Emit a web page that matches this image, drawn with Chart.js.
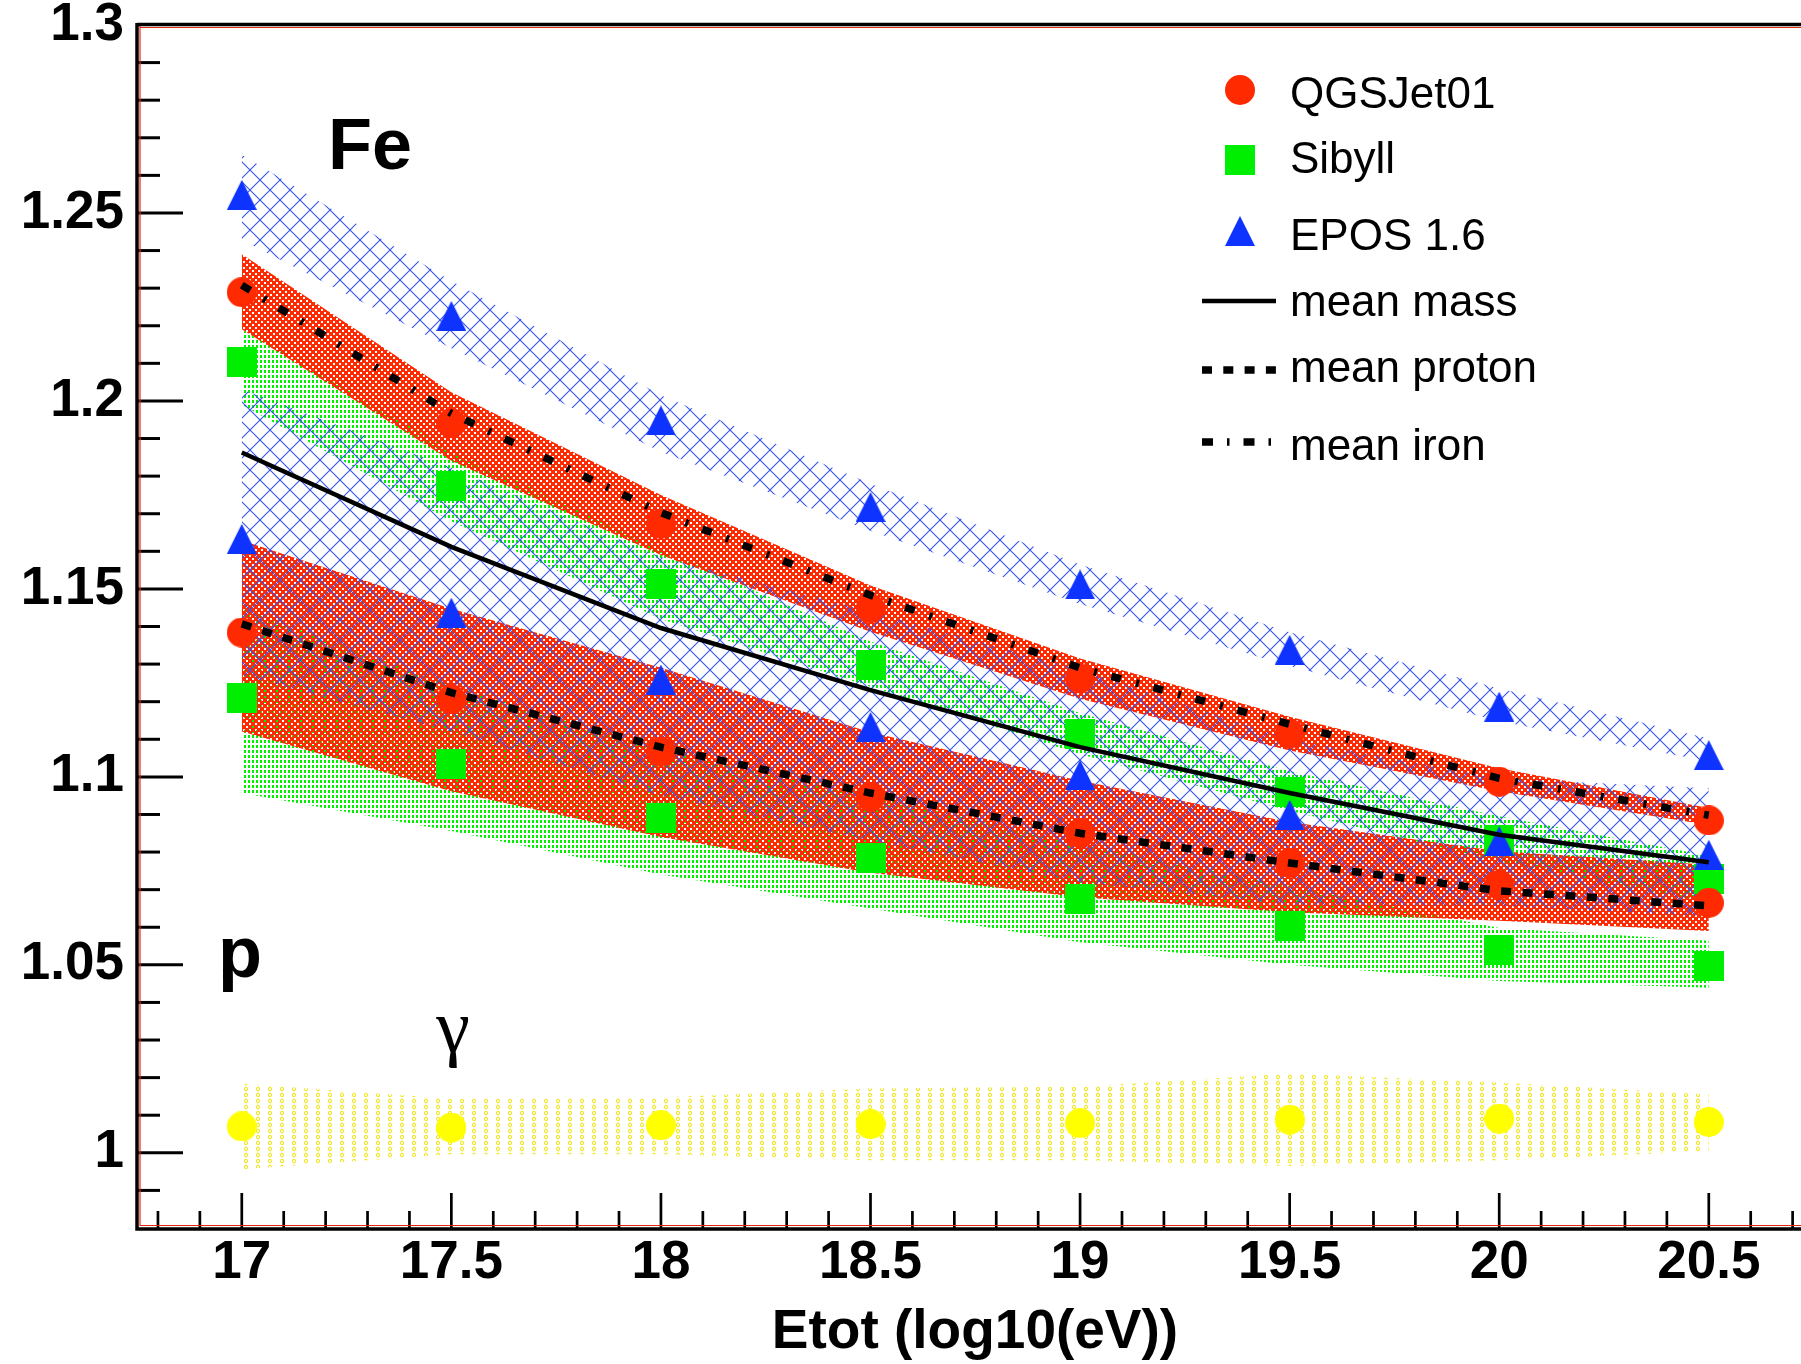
<!DOCTYPE html>
<html>
<head>
<meta charset="utf-8">
<script src="https://cdn.jsdelivr.net/npm/chart.js@4.4.1/dist/chart.umd.min.js"></script>
<style>
  html, body { margin: 0; padding: 0; background: #fff; overflow: hidden; }
  canvas { display: block; }
</style>
</head>
<body>
<canvas id="chart" width="1801" height="1364"></canvas>
<script>
// energies (log10 eV) of every simulated point
const ENERGY = [17, 17.5, 18, 18.5, 19, 19.5, 20, 20.5];
const X_TICKS = [17, 17.5, 18, 18.5, 19, 19.5, 20, 20.5];
const X_LABELS = ["17", "17.5", "18", "18.5", "19", "19.5", "20", "20.5"];
const Y_TICKS = [1, 1.05, 1.1, 1.15, 1.2, 1.25, 1.3];
const Y_LABELS = ["1", "1.05", "1.1", "1.15", "1.2", "1.25", "1.3"];
const X_TITLE = "Etot (log10(eV))";

// markers
const qgsIron    = [1.2289, 1.1941, 1.1673, 1.1448, 1.1262, 1.1115, 1.0987, 1.0884];
const qgsProton  = [1.1384, 1.1206, 1.1067, 1.0947, 1.0850, 1.0771, 1.0713, 1.0665];
const sibIron    = [1.2103, 1.1775, 1.1512, 1.1297, 1.1115, 1.0961, 1.0832, 1.0728];
const sibProton  = [1.1211, 1.1035, 1.0890, 1.0783, 1.0676, 1.0603, 1.0540, 1.0497];
const eposIron   = [1.2548, 1.2226, 1.1948, 1.1718, 1.1512, 1.1338, 1.1187, 1.1058];
const eposProton = [1.1633, 1.1437, 1.1259, 1.1133, 1.1005, 1.0899, 1.0829, 1.0793];
const gamma      = [1.0070, 1.0067, 1.0073, 1.0076, 1.0079, 1.0088, 1.0091, 1.0082];

// mean curves
const meanMass   = [1.1863, 1.1612, 1.1396, 1.1231, 1.1079, 1.0957, 1.0846, 1.0773];
const meanProton = [1.1407, 1.1224, 1.1079, 1.0957, 1.0850, 1.0771, 1.0697, 1.0657];
const meanIron   = [1.2308, 1.1967, 1.1703, 1.1483, 1.1290, 1.1140, 1.0996, 1.0898];

// spread bands (upper / lower edge)
const eposIronHi   = [1.2655, 1.2319, 1.2015, 1.1780, 1.1565, 1.1385, 1.1235, 1.1102];
const eposIronLo   = [1.2429, 1.2140, 1.1865, 1.1655, 1.1460, 1.1295, 1.1148, 1.1041];
const eposProtonHi = [1.2031, 1.1822, 1.1585, 1.1440, 1.1285, 1.1100, 1.0996, 1.0970];
const eposProtonLo = [1.1270, 1.1121, 1.0950, 1.0830, 1.0720, 1.0660, 1.0657, 1.0630];
const qgsIronHi    = [1.2390, 1.2023, 1.1750, 1.1509, 1.1315, 1.1160, 1.1023, 1.0917];
const qgsIronLo    = [1.2191, 1.1841, 1.1590, 1.1386, 1.1208, 1.1070, 1.0962, 1.0872];
const qgsProtonHi  = [1.1629, 1.1447, 1.1290, 1.1119, 1.0990, 1.0880, 1.0802, 1.0766];
const qgsProtonLo  = [1.1121, 1.0962, 1.0840, 1.0745, 1.0680, 1.0640, 1.0617, 1.0590];
const sibIronHi    = [1.2191, 1.1870, 1.1605, 1.1360, 1.1170, 1.1015, 1.0895, 1.0790];
const sibIronLo    = [1.1990, 1.1680, 1.1420, 1.1240, 1.1060, 1.0910, 1.0775, 1.0665];
const sibProtonHi  = [1.1447, 1.1244, 1.1070, 1.0950, 1.0820, 1.0710, 1.0598, 1.0564];
const sibProtonLo  = [1.0957, 1.0856, 1.0740, 1.0650, 1.0560, 1.0500, 1.0457, 1.0439];
const gammaHi      = [1.0184, 1.0144, 1.0147, 1.0171, 1.0176, 1.0211, 1.0187, 1.0155];
const gammaLo      = [0.9956, 0.9996, 0.9996, 0.9980, 0.9980, 0.9965, 0.9980, 1.0004];

const RED = "#ff2a00";
const GREEN = "#00ee00";
const BLUE = "#0f33ff";
const YELLOW = "#ffff00";
const FONT = '"Liberation Sans", Arial, Helvetica, sans-serif';

function pts(arr) {
  return ENERGY.map((x, i) => ({ x, y: arr[i] }));
}

function tile(w, h, draw) {
  const c = document.createElement("canvas");
  c.width = w;
  c.height = h;
  const g = c.getContext("2d");
  draw(g);
  return c;
}

function pattern(w, h, draw) {
  const c = tile(w, h, draw);
  return c.getContext("2d").createPattern(c, "repeat");
}

// fill patterns in the spirit of ROOT fill styles
const hatchBlue = pattern(20, 20, (g) => {
  g.strokeStyle = "#3352f2";
  g.lineWidth = 1.1;
  for (const d of [-20, 0, 20]) {
    g.beginPath(); g.moveTo(d, 0); g.lineTo(d + 20, 20); g.stroke();
    g.beginPath(); g.moveTo(d + 20, 0); g.lineTo(d, 20); g.stroke();
  }
});
const checkRed = pattern(6, 6, (g) => {
  g.fillStyle = RED;
  g.fillRect(0, 0, 6, 6);
  g.clearRect(0, 0, 2, 2);
  g.clearRect(3, 3, 2, 2);
});
const dotsGreen = pattern(4, 5, (g) => {
  g.fillStyle = "#00f000";
  g.fillRect(0, 0, 2, 3);
});
const ringsYellow = pattern(12, 6, (g) => {
  g.strokeStyle = "#f0e400";
  g.lineWidth = 1;
  g.beginPath();
  g.ellipse(6, 3, 1.5, 1.9, 0, 0, Math.PI * 2);
  g.stroke();
});

// marker images
const mkCircle = (col) => tile(30, 30, (g) => {
  g.fillStyle = col;
  g.beginPath(); g.arc(15, 15, 15, 0, Math.PI * 2); g.fill();
});
const mkSquare = tile(30, 30, (g) => { g.fillStyle = GREEN; g.fillRect(0, 0, 30, 30); });
const mkTriangle = tile(30, 30, (g) => {
  g.fillStyle = BLUE;
  g.beginPath(); g.moveTo(15, 0); g.lineTo(30, 30); g.lineTo(0, 30); g.closePath(); g.fill();
});
const mkRed = mkCircle(RED);
const mkYellow = mkCircle(YELLOW);

function markers(arr, img) {
  return { data: pts(arr), showLine: false, pointStyle: img, pointRadius: 15, pointHoverRadius: 15 };
}

function curve(arr, width, dash) {
  return {
    data: pts(arr), borderColor: "#000", borderWidth: width, borderDash: dash,
    borderCapStyle: "butt", pointRadius: 0, fill: false,
  };
}

function band(hi, lo, fillStyle) {
  return [
    { data: pts(hi), fill: "+1", backgroundColor: fillStyle, borderWidth: 0, pointRadius: 0 },
    { data: pts(lo), fill: false, borderWidth: 0, pointRadius: 0 },
  ];
}

// the frame runs off the right edge of the picture: stretch the x axis to the canvas edge
const fullWidth = {
  id: "fullWidth",
  afterLayout(chart) {
    const x = chart.scales.x;
    const a = chart.chartArea;
    a.right = chart.width;
    a.width = a.right - a.left;
    x.right = chart.width;
    x.width = x.right - x.left;
    x.configure();
  },
};

// axis frame and inward ticks, ROOT style
const rootFrame = {
  id: "rootFrame",
  afterDatasetsDraw(chart) {
    const { ctx, chartArea: a, scales: { x, y } } = chart;
    ctx.save();
    ctx.strokeStyle = "#000";
    ctx.lineWidth = 3;
    for (let i = 99; i < 130; i++) {
      const py = y.getPixelForValue(i / 100);
      const len = i % 5 === 0 ? 46 : 23;
      ctx.beginPath(); ctx.moveTo(a.left, py); ctx.lineTo(a.left + len, py); ctx.stroke();
    }
    ctx.lineWidth = 2.7;
    for (let i = 168; i <= 207; i++) {
      const px = x.getPixelForValue(i / 10);
      const len = i % 5 === 0 ? 35 : 17;
      ctx.beginPath(); ctx.moveTo(px, a.bottom); ctx.lineTo(px, a.bottom - len); ctx.stroke();
    }
    // thin red pad frame just inside the axes
    ctx.strokeStyle = "#e02a10";
    ctx.lineWidth = 1.2;
    ctx.beginPath();
    ctx.moveTo(a.left + 3, a.top + 2.5);
    ctx.lineTo(a.right, a.top + 2.5);
    ctx.moveTo(a.left + 3, a.top);
    ctx.lineTo(a.left + 3, a.bottom - 2.5);
    ctx.lineTo(a.right, a.bottom - 2.5);
    ctx.stroke();
    ctx.strokeStyle = "#000";
    ctx.lineWidth = 3.5;
    ctx.beginPath();
    ctx.moveTo(a.left, a.top - 0.5);
    ctx.lineTo(a.right, a.top - 0.5);
    ctx.moveTo(a.left, a.top - 2);
    ctx.lineTo(a.left, a.bottom + 1);
    ctx.lineTo(a.right, a.bottom + 1);
    ctx.stroke();
    ctx.restore();
  },
};

const labels = {
  id: "labels",
  afterDraw(chart) {
    const { ctx } = chart;
    ctx.save();
    ctx.fillStyle = "#000";
    ctx.textAlign = "left";
    ctx.textBaseline = "alphabetic";
    ctx.font = `bold 72px ${FONT}`;
    ctx.fillText("Fe", 328, 169);
    ctx.fillText("p", 218, 977);
    ctx.font = '76px "Liberation Serif", "Times New Roman", serif';
    ctx.textAlign = "center";
    ctx.fillText("γ", 453, 1052);

    // x axis title, centred on the full (partly cropped) frame
    ctx.font = `bold 55px ${FONT}`;
    ctx.textBaseline = "middle";
    ctx.fillText(X_TITLE, 975, 1333);

    // legend
    const mx = 1240, tx = 1290, l0 = 1202, l1 = 1276;
    ctx.drawImage(mkRed, mx - 15, 90 - 15);
    ctx.drawImage(mkSquare, mx - 15, 160 - 15);
    ctx.drawImage(mkTriangle, mx - 15, 231 - 15);
    ctx.strokeStyle = "#000";
    ctx.lineCap = "butt";
    ctx.lineWidth = 4.5;
    ctx.beginPath(); ctx.moveTo(l0, 301); ctx.lineTo(l1, 301); ctx.stroke();
    ctx.lineWidth = 7.5;
    ctx.setLineDash([10, 11.3]);
    ctx.beginPath(); ctx.moveTo(l0, 370); ctx.lineTo(l1, 370); ctx.stroke();
    ctx.setLineDash([11, 14, 2.5, 14]);
    ctx.beginPath(); ctx.moveTo(l0, 442); ctx.lineTo(l1, 442); ctx.stroke();
    ctx.setLineDash([]);
    ctx.font = `44px ${FONT}`;
    ctx.textAlign = "left";
    ctx.textBaseline = "alphabetic";
    const entries = [
      ["QGSJet01", 108], ["Sibyll", 173], ["EPOS 1.6", 250],
      ["mean mass", 316], ["mean proton", 382], ["mean iron", 460],
    ];
    entries.forEach(([t, by]) => ctx.fillText(t, tx, by));
    ctx.restore();
  },
};

new Chart(document.getElementById("chart"), {
  type: "line",
  data: {
    datasets: [
      curve(meanIron, 7.5, [10, 15.5, 3, 15]),
      curve(meanProton, 7.5, [10, 11.5]),
      curve(meanMass, 4.5, []),
      markers(eposIron, mkTriangle),
      markers(eposProton, mkTriangle),
      markers(qgsIron, mkRed),
      markers(qgsProton, mkRed),
      markers(sibIron, mkSquare),
      markers(sibProton, mkSquare),
      markers(gamma, mkYellow),
      ...band(eposIronHi, eposIronLo, hatchBlue),
      ...band(eposProtonHi, eposProtonLo, hatchBlue),
      ...band(qgsIronHi, qgsIronLo, checkRed),
      ...band(qgsProtonHi, qgsProtonLo, checkRed),
      ...band(sibIronHi, sibIronLo, dotsGreen),
      ...band(sibProtonHi, sibProtonLo, dotsGreen),
      ...band(gammaHi, gammaLo, ringsYellow),
    ],
  },
  options: {
    responsive: false,
    animation: false,
    devicePixelRatio: 1,
    events: [],
    layout: { padding: { top: 25, right: 0, left: 0, bottom: 0 } },
    elements: { line: { tension: 0 } },
    plugins: { legend: { display: false }, tooltip: { enabled: false } },
    scales: {
      x: {
        type: "linear",
        min: 16.75,
        max: 20.72,
        grid: { display: false, drawTicks: false },
        border: { display: false },
        afterBuildTicks: (s) => { s.ticks = X_TICKS.map((v) => ({ value: v })); },
        afterFit: (s) => { s.height = 136; s.paddingLeft = 0; s.paddingRight = 0; },
        ticks: {
          color: "#000",
          padding: 4,
          maxRotation: 0,
          autoSkip: false,
          font: { family: FONT, weight: "bold", size: 53 },
          callback: (v) => X_LABELS[X_TICKS.indexOf(v)],
        },
      },
      y: {
        min: 0.98,
        max: 1.3,
        grid: { display: false, drawTicks: false },
        border: { display: false },
        afterBuildTicks: (s) => { s.ticks = Y_TICKS.map((v) => ({ value: v })); },
        afterFit: (s) => { s.width = 137; s.paddingTop = 0; s.paddingBottom = 0; },
        ticks: {
          color: "#000",
          padding: 13,
          font: { family: FONT, weight: "bold", size: 53 },
          callback: (v) => Y_LABELS[Y_TICKS.indexOf(v)],
        },
      },
    },
  },
  plugins: [fullWidth, rootFrame, labels],
});
</script>
</body>
</html>
